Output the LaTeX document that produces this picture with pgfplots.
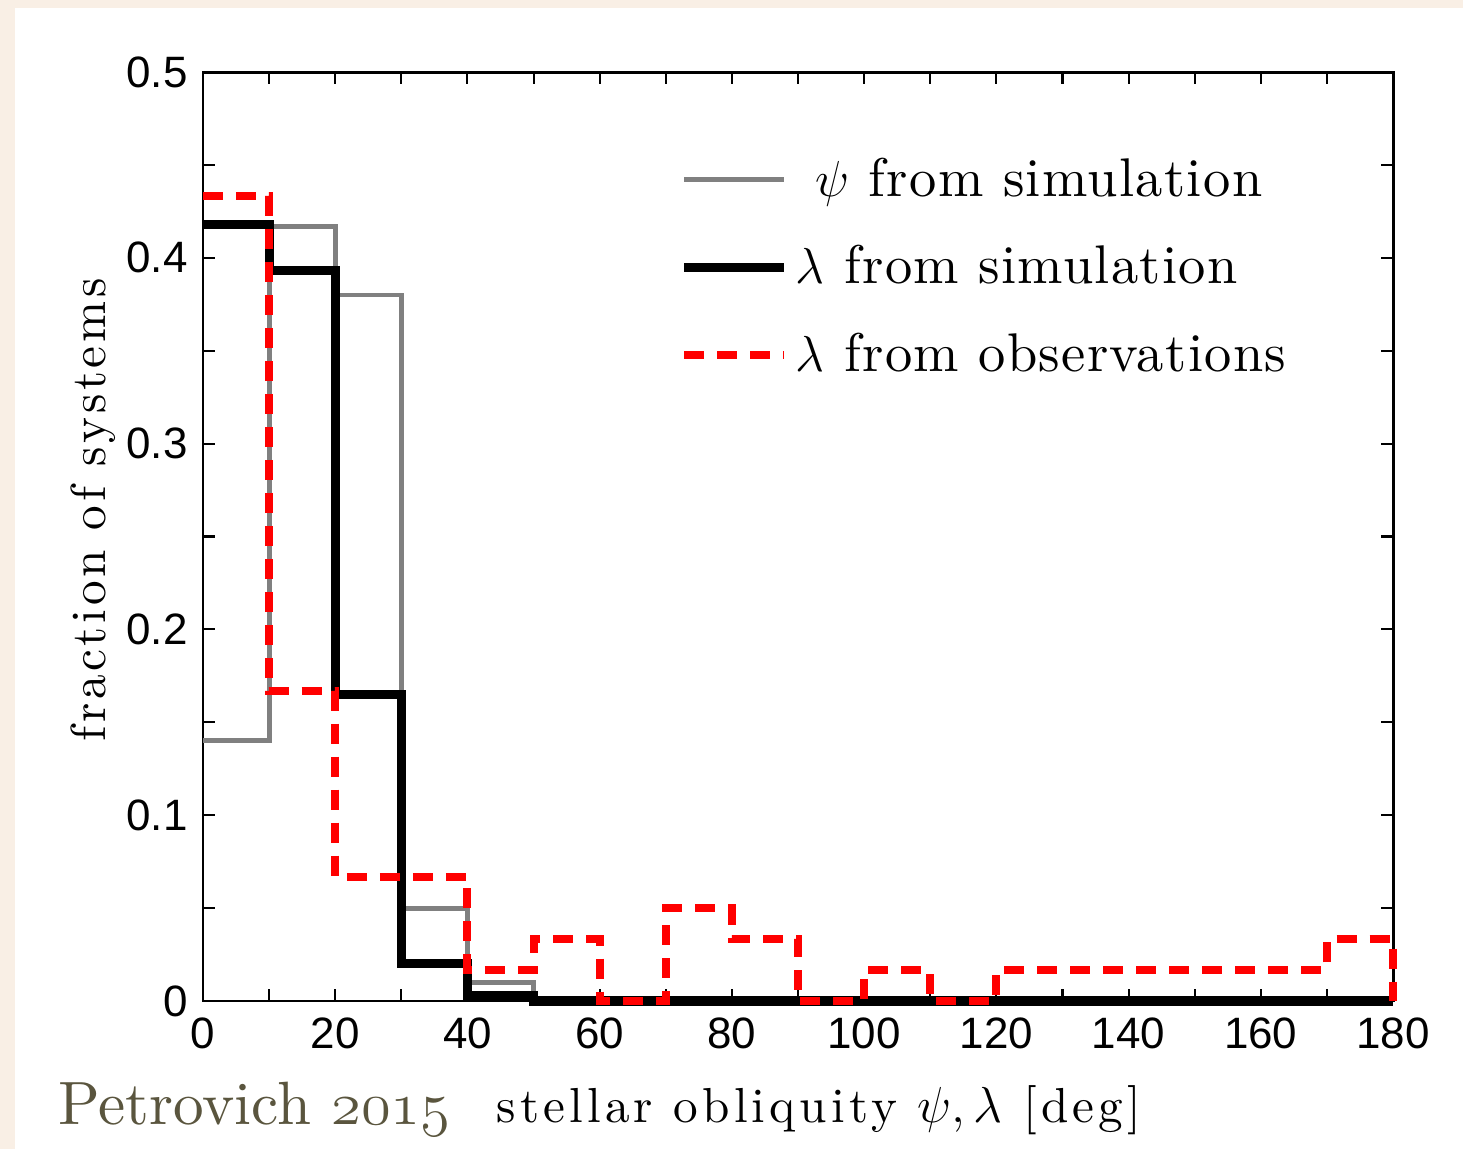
\documentclass[border=0pt]{standalone}
\usepackage{fontspec}
\usepackage{pgfplots}
\pgfplotsset{compat=1.18}
\newfontfamily\ticksf{Liberation Sans}
\newfontfamily\labsp{lmroman10-regular.otf}[LetterSpace=8.5]
\newfontfamily\ylabsp{lmroman10-regular.otf}[LetterSpace=7.5]
\newfontfamily\legsp{lmroman10-regular.otf}[LetterSpace=2.5]
\newfontfamily\petsp{lmroman10-regular.otf}
\definecolor{beige}{RGB}{249,239,229}
\definecolor{olive}{RGB}{90,85,62}
\definecolor{midgray}{RGB}{128,128,128}
\newcommand\labfont{\labsp\fontsize{14}{16}\selectfont}
\newcommand\ylabfont{\ylabsp\fontsize{14}{16}\selectfont}
\newcommand\legfont{\legsp\fontsize{15.5}{18}\selectfont}
\begin{document}
\begin{tikzpicture}
\fill[beige] (-20.3mm,-14.8mm) rectangle (126mm,100.1mm);
\fill[white] (-18.8mm,-14.8mm) rectangle (126mm,99.3mm);
\begin{axis}[
  at={(0,0)}, anchor=south west,
  scale only axis, width=119mm, height=92.9mm,
  xmin=0, xmax=180, ymin=0, ymax=0.5,
  clip=false,
  axis line style={line width=0.85pt},
  every tick/.style={black, line width=0.6pt},
  major tick length=1.2mm, minor tick length=1.2mm,
  xtick={0,20,...,180}, minor xtick={10,30,...,170},
  ytick={0,0.1,0.2,0.3,0.4,0.5}, minor ytick={0.05,0.15,0.25,0.35,0.45},
  tick align=inside, tick pos=both,
  /pgf/number format/assume math mode=true,
  tick label style={font=\ticksf\fontsize{12.5}{14}\selectfont},
  yticklabel style={xshift=-0.3mm},
  xticklabel style={yshift=-0.4mm},
  xlabel={stellar obliquity $\psi,\lambda$ [deg]},
  xlabel style={font=\labfont, at={(axis description cs:0.5176,0)}, anchor=base, yshift=-12.2mm},
  ylabel={fraction of systems},
  ylabel style={font=\ylabfont, at={(axis description cs:0,0.5285)}, anchor=center, yshift=11.0mm},
  legend style={draw=none, fill=none, at={(axis description cs:0.40,0.916)}, anchor=north west,
    font=\legfont, row sep=3.0mm, inner sep=0pt},
  legend cell align=left,
  legend image code/.code={\draw[#1] (0mm,0mm) -- (10mm,0mm);},
]
\addplot[const plot, midgray, line width=1.4pt] coordinates {
(0,0.14) (10,0.417) (20,0.38) (30,0.05) (40,0.01) (50,0) (180,0)};
\addlegendentry{\ $\psi$ from simulation}
\addplot[const plot, black, line width=2.6pt] coordinates {
(0,0.418) (10,0.393) (20,0.165) (30,0.02) (40,0.003) (50,0) (180,0)};
\addlegendentry{$\lambda$ from simulation}
\addplot[const plot, red, line width=2.3pt, dash pattern=on 2mm off 1.3mm] coordinates {
(0,0.4333) (10,0.1667) (20,0.0667) (30,0.0667) (40,0.0167) (50,0.0333) (60,0)
(70,0.05) (80,0.0333) (90,0) (100,0.0167) (110,0) (120,0.0167) (130,0.0167)
(140,0.0167) (150,0.0167) (160,0.0167) (170,0.0333) (180,0.0333) (180,0)};
\addlegendentry{$\lambda$ from observations}
\end{axis}
\node[anchor=base west, text=olive, font=\petsp\fontsize{17.4}{20}\selectfont, inner sep=0pt] at (-14.5mm,-12.4mm) {Petrovich $\mathnormal{2015}$};
\end{tikzpicture}
\end{document}
